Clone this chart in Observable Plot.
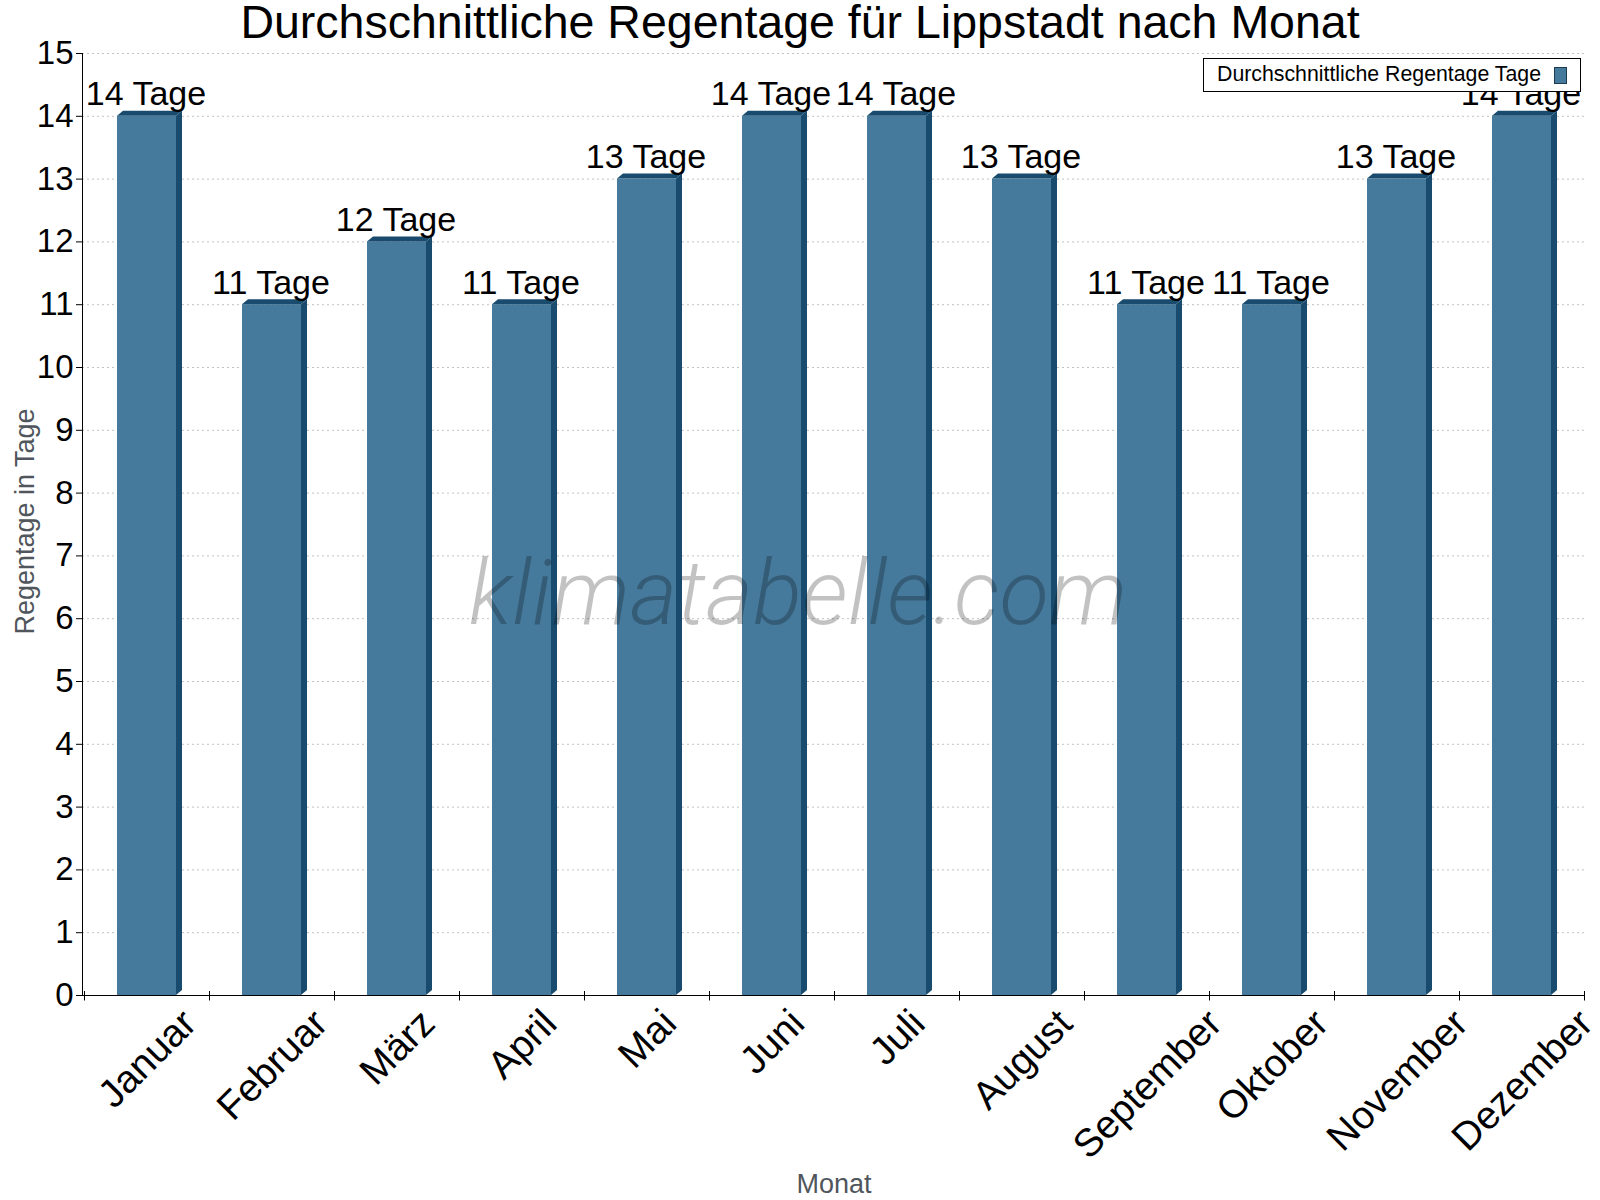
<!DOCTYPE html>
<html lang="de">
<head>
<meta charset="utf-8">
<title>Durchschnittliche Regentage für Lippstadt nach Monat</title>
<script src="https://cdn.jsdelivr.net/npm/d3@7"></script>
<script src="https://cdn.jsdelivr.net/npm/@observablehq/plot@0.6"></script>
<style>
  html, body { margin: 0; padding: 0; background: #fff; }
  body { font-family: "Liberation Sans", Arial, sans-serif; color: #000; }
  #wrap { position: relative; width: 1600px; height: 1200px; overflow: hidden; }
  #title { height: 44px; line-height: 44px; font-size: 46.5px; text-align: center; white-space: nowrap; }
  #chart svg { display: block; }
  #legend {
    position: absolute; left: 1203px; top: 58px; width: 376px; height: 32px;
    border: 1px solid #000; background: #fff;
  }
  #legend .txt { position: absolute; left: 13px; top: 5px; font-size: 21.3px; line-height: 21px; white-space: nowrap; }
  #legend .sw {
    position: absolute; left: 350px; top: 8px; width: 13px; height: 17px; box-sizing: border-box;
    background: #467a9c; border: 1px solid #1b3b50;
  }
</style>
</head>
<body>
<div id="wrap">
  <div id="title">Durchschnittliche Regentage für Lippstadt nach Monat</div>
  <div id="chart"></div>
  <div id="legend"><span class="txt">Durchschnittliche Regentage Tage</span><span class="sw"></span></div>
</div>
<script>
// Monthly averages of rainy days
const months = ["Januar", "Februar", "März", "April", "Mai", "Juni", "Juli", "August", "September", "Oktober", "November", "Dezember"];
const rainDays = [14, 11, 12, 11, 13, 14, 14, 13, 11, 11, 13, 14];
const yTicks = [0, 1, 2, 3, 4, 5, 6, 7, 8, 9, 10, 11, 12, 13, 14, 15];
const unit = "Tage";

const data = months.map((month, i) => ({month, days: rainDays[i]}));

const sans = "'Liberation Sans', Arial, sans-serif";
const frontColor = "#467a9c";
const sideColor = "#184b6d";
const depthX = 6, depthY = 5; // oblique depth of the bar blocks, px
const xLabelSize = 39;

// Top and side faces of each bar, plus the left axis line and the
// category boundary ticks on the x axis.
function barBlocks(index, scales, values, dimensions) {
  const {x, y} = scales;
  const bw = x.bandwidth();
  const step = typeof x.step === "function" ? x.step() : bw;
  const g = d3.create("svg:g");
  const y0 = y(0);
  for (const d of data) {
    const x0 = x(d.month), x1 = x0 + bw, yt = y(d.days);
    g.append("path")
      .attr("fill", sideColor)
      .attr("d", `M${x1},${y0}L${x1 + depthX},${y0 - depthY}L${x1 + depthX},${yt - depthY}L${x1},${yt}Z`);
    g.append("path")
      .attr("fill", sideColor)
      .attr("d", `M${x0},${yt}L${x0 + depthX},${yt - depthY}L${x1 + depthX},${yt - depthY}L${x1},${yt}Z`);
  }
  const left = dimensions.marginLeft + 0.5;
  g.append("line")
    .attr("x1", left).attr("x2", left)
    .attr("y1", y(yTicks[yTicks.length - 1])).attr("y2", y0 + 0.5)
    .attr("stroke", "#000");
  const edges = months.map(m => x(m) + bw / 2 - step / 2);
  edges.push(x(months[months.length - 1]) + bw / 2 + step / 2);
  for (const e of edges) {
    g.append("line")
      .attr("x1", Math.round(e) + 0.5).attr("x2", Math.round(e) + 0.5)
      .attr("y1", y0 - 4).attr("y2", y0 + 5.5)
      .attr("stroke", "#000");
  }
  return g.node();
}

const chart = Plot.plot({
  width: 1600,
  height: 1156,
  marginTop: 9,
  marginRight: 15,
  marginBottom: 205,
  marginLeft: 82,
  style: {fontFamily: sans, background: "#fff", color: "#000", overflow: "visible"},
  x: {domain: months, paddingInner: 0.53, paddingOuter: 0.265},
  y: {domain: [0, 15]},
  marks: [
    Plot.gridY({ticks: yTicks, stroke: "#c2c2c2", strokeOpacity: 1, strokeDasharray: "2,3"}),
    Plot.axisY({ticks: yTicks, fontSize: 33, fontFamily: sans, tickSize: 6, tickPadding: 3, label: null, tickFormat: d => String(d)}),
    Plot.barY(data, {x: "month", y: "days", fill: frontColor}),
    barBlocks,
    Plot.ruleY([0], {stroke: "#000"}),
    Plot.text(data, {
      x: "month", y: "days", text: d => `${d.days} ${unit}`,
      fontSize: 34, fontFamily: sans, lineAnchor: "bottom", dy: -11, dx: -1, fill: "#000"
    }),
    Plot.text(["klimatabelle.com"], {
      frameAnchor: "middle", lineAnchor: "bottom", dx: -36, dy: 99,
      fontFamily: "Roboto, 'Open Sans', sans-serif", fontWeight: 300, fontStyle: "italic",
      fontSize: 91, fill: "#000", fillOpacity: 0.24
    }),
    Plot.axisX({fontSize: xLabelSize, fontFamily: sans, tickSize: 0, tickRotate: -45, label: null}),
    Plot.text(["Regentage in Tage"], {
      frameAnchor: "left", rotate: -90, textAnchor: "middle", lineAnchor: "bottom",
      dx: -49, dy: -3, fontSize: 27, fontFamily: sans, fill: "#50565c"
    }),
    Plot.text(["Monat"], {
      frameAnchor: "bottom", textAnchor: "middle", lineAnchor: "bottom",
      dy: 197, fontSize: 27, fontFamily: sans, fill: "#50565c"
    })
  ]
});

document.getElementById("chart").append(chart);

// Centre each slanted month label under its bar, with the label tops on one line.
const xs = chart.scale("x");
const ys = chart.scale("y");
const capHeight = 0.716 * xLabelSize;
const labelTop = ys.apply(0) + 11;
chart.querySelectorAll('g[aria-label="x-axis tick label"] text').forEach(t => {
  const m = t.textContent;
  const cx = xs.apply(m) + xs.bandwidth / 2;
  const L = t.getComputedTextLength();
  const px = cx + capHeight * 0.3536;
  const py = labelTop + (L / 2 + capHeight) * 0.7071;
  const ctm = t.parentNode.getCTM();
  const p = new DOMPoint(px, py).matrixTransform(ctm.inverse());
  t.removeAttribute("x");
  t.removeAttribute("y");
  t.removeAttribute("dy");
  t.setAttribute("text-anchor", "middle");
  t.setAttribute("transform", `translate(${p.x},${p.y}) rotate(-45)`);
});
</script>
</body>
</html>
